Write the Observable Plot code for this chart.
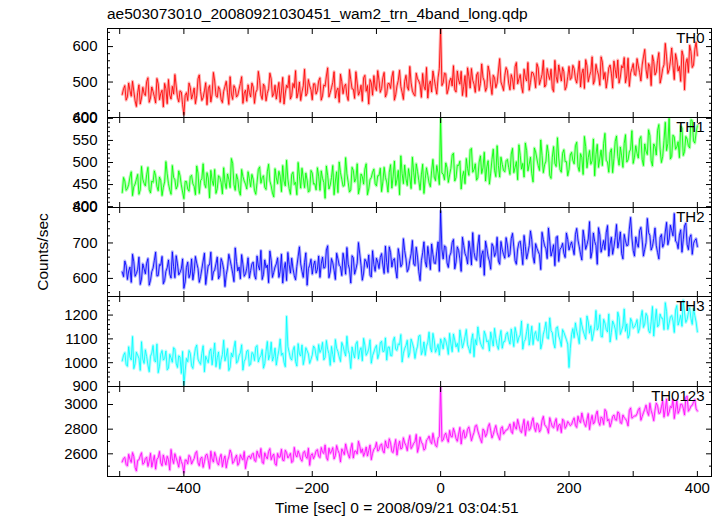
<!DOCTYPE html>
<html><head><meta charset="utf-8">
<script src="https://cdn.jsdelivr.net/npm/d3@7"></script>
<script src="https://cdn.jsdelivr.net/npm/@observablehq/plot@0.6"></script>
<style>
body{margin:0;background:#fff;}
#chart{position:relative;width:722px;height:516px;font-family:"Liberation Sans",Arial,Helvetica,sans-serif;color:#000;overflow:hidden;background:#fff}
.lbl{position:absolute;font-size:15.5px;line-height:1;white-space:nowrap}
#chart svg{position:absolute;left:0;overflow:visible}
</style></head><body>
<div id="chart"></div>
<script>
// ---- texts ----
const titleText = "ae503073010_20080921030451_wam2_trn_4band_long.qdp";
const xLabelText = "Time [sec] 0 = 2008/09/21 03:04:51";
const yLabelText = "Counts/sec";
const panelLabels = ["TH0", "TH1", "TH2", "TH3", "TH0123"];
const colors = ["#ff0000", "#00ff00", "#0000ff", "#00ffff", "#ff00ff"];

// ---- bin times: 2 s bins from -496 to 400 ----
const binStart = -496, binStep = 2, binCount = 449;
const binTimes = d3.range(binCount).map(k => binStart + k * binStep);

// ---- series values (counts/sec); "A" = even bins, "B" = odd bins ----
const th0A = [
465,490,458,476,502,447,470,438,485,462,512,455,473,441,495,468,430,481,507,452,466,489,444,472,408,
470,497,452,483,461,520,448,475,436,490,466,503,457,479,442,488,470,515,451,482,463,496,440,477,492,
458,486,471,530,463,494,447,481,509,466,452,499,475,438,491,518,462,484,455,500,472,536,468,489,450,
495,476,512,461,488,540,470,499,455,483,522,467,494,448,507,480,529,463,491,512,474,438,498,518,476,
505,482,527,468,496,514,449,489,533,471,502,486,544,475,461,509,492,524,478,455,503,531,487,512,655,
498,523,480,511,546,472,505,530,488,459,516,538,494,520,476,551,503,485,528,465,512,497,566,489,519,
532,478,508,543,495,521,470,513,555,499,526,484,540,507,561,492,519,536,473,515,548,503,529,487,544,
512,538,497,559,524,482,546,518,571,505,532,491,556,527,509,548,483,535,562,514,540,498,567,526,552,
519,545,503,571,536,552,490,558,528,583,514,549,571,535,596,507,562,544,588,478,566,604,541,592,575];
const th0B = [
481,449,497,460,474,431,492,455,468,501,443,486,459,510,450,477,496,439,463,488,521,457,475,436,462,
448,485,466,439,509,473,456,498,481,444,527,462,487,451,474,502,437,466,490,458,480,515,469,446,471,
497,440,478,505,451,487,468,525,459,491,477,443,513,469,484,452,496,532,470,448,489,461,507,478,495,
466,503,449,492,517,458,484,529,476,443,501,488,462,535,481,454,497,472,446,519,490,507,463,486,532,
471,512,458,496,482,530,464,505,487,451,519,477,498,466,525,503,457,488,541,494,472,509,466,538,490,
525,467,503,489,478,531,494,462,518,540,483,505,471,527,496,513,474,545,492,519,484,531,500,476,541,
497,521,480,555,509,488,536,503,477,528,514,552,493,521,486,538,507,482,561,499,526,541,478,515,507,
547,509,528,486,537,563,501,529,494,550,520,571,508,483,540,525,559,512,497,546,569,517,488,538,521,
566,527,548,592,511,543,575,520,561,497,538,609,524,559,546,580,531,502,573,553,527,586,548,612];

const th1A = [
432,458,441,467,425,451,473,438,462,447,489,431,455,470,436,459,444,502,452,428,466,440,481,449,418,
457,435,471,446,492,430,463,452,477,420,459,484,441,466,429,455,474,443,498,437,461,426,468,451,479,
445,462,428,484,453,470,439,496,447,422,465,480,434,458,505,441,473,450,427,469,487,443,460,436,476,
452,488,437,464,419,471,449,493,458,432,477,446,511,455,438,482,463,429,474,451,497,440,466,485,447,
470,434,489,456,478,442,503,461,427,475,494,448,467,512,452,480,438,496,463,471,445,507,459,476,600,
474,499,455,487,521,466,493,440,480,509,471,532,484,460,501,475,523,490,451,507,482,538,467,496,479,
507,473,532,489,461,516,498,544,481,512,456,524,493,551,477,503,520,464,536,491,510,478,529,502,484,
523,497,546,480,512,559,488,527,504,470,541,510,493,566,501,522,477,548,514,535,489,563,506,530,498,
538,510,559,493,526,574,504,542,517,586,500,550,527,600,514,558,535,511,578,525,553,533,595,544,583];
const th1B = [
466,437,450,479,445,462,428,491,453,472,439,458,481,446,467,425,456,474,438,493,461,447,470,433,457,
440,468,452,427,476,459,497,443,465,482,448,430,470,455,488,441,462,509,450,473,436,484,458,440,463,
473,437,455,490,466,444,479,458,431,486,452,469,493,447,462,428,478,455,500,442,465,476,433,482,451,
438,469,481,455,492,440,466,427,479,501,462,448,474,433,489,456,497,443,468,485,427,461,478,452,470,
487,456,466,433,495,469,448,482,515,452,463,486,441,478,497,459,472,430,488,454,481,467,493,450,476,
461,488,472,517,458,494,503,469,452,486,529,478,497,466,515,488,458,504,476,530,468,493,512,482,504,
489,519,477,502,540,485,467,527,496,475,533,508,482,516,495,539,471,512,498,556,484,521,502,470,517,
505,538,491,520,473,536,511,496,553,518,489,528,543,505,478,531,509,560,494,515,543,501,524,572,512,
521,553,507,542,518,561,492,536,573,529,514,591,543,508,562,530,547,583,516,559,538,597,549,567];

const th2A = [
618,649,597,632,668,606,625,583,641,613,656,595,629,674,608,637,585,620,652,601,633,664,610,627,572,
631,602,655,619,643,589,627,671,612,638,596,624,660,608,645,577,629,652,615,686,621,599,640,613,658,
622,646,598,635,679,611,630,588,651,617,641,603,668,626,594,639,657,608,634,689,620,645,581,637,612,
649,625,603,660,631,692,618,644,597,655,633,671,612,640,587,658,626,701,637,615,648,666,604,639,657,
628,670,614,645,689,632,656,601,663,640,678,619,651,707,636,660,594,672,647,690,625,668,642,703,790,
655,688,631,672,710,646,679,620,693,661,705,638,674,651,722,667,609,685,649,698,662,716,640,681,657,
694,668,727,650,683,705,639,690,672,734,661,698,676,625,709,684,742,663,695,716,648,687,671,728,680,
703,667,741,689,652,712,695,760,676,704,640,723,690,681,749,697,668,715,686,731,655,706,694,772,679,
717,688,744,663,701,729,680,712,692,655,724,698,758,711,735,783,702,722,674,748,696,715,668,707,690];
const th2B = [
605,636,621,589,647,614,660,598,627,643,581,619,651,607,639,662,594,630,612,675,602,641,617,655,590,
646,613,596,662,628,605,649,583,637,674,618,641,599,656,625,610,668,634,591,647,632,667,606,629,601,
641,609,663,624,597,652,638,677,603,632,658,620,587,645,673,615,627,596,661,641,603,672,628,654,637,
615,663,641,629,680,602,656,623,671,637,608,649,687,626,664,612,643,669,595,654,631,609,678,620,646,
659,638,691,617,673,652,624,684,633,712,655,627,669,641,688,619,650,703,632,661,697,643,675,620,682,
692,644,663,701,627,689,655,716,670,641,683,729,656,694,632,678,705,661,626,690,672,649,704,668,715,
661,712,689,640,701,676,721,655,693,709,643,685,667,730,692,656,705,677,636,719,683,699,659,710,693,
685,724,708,668,736,682,711,657,728,693,743,674,707,729,663,716,689,752,705,670,724,692,739,714,663,
698,735,709,682,769,721,690,742,673,716,688,731,695,750,720,705,684,737,709,756,681,723,699,712];

const th3A = [
1008,1042,985,1023,1110,996,1031,968,1015,1054,990,1027,1072,1003,958,1036,1011,1049,977,1020,1063,998,1029,955,905,
1018,1051,987,1026,1074,1002,1039,962,1013,1047,991,1082,1021,975,1034,1008,1059,981,1024,1090,1006,1041,969,1016,1052,
994,1038,1065,1003,1029,977,1047,1012,1086,1025,990,1053,1031,1002,1195,1044,1011,1068,986,1036,1074,1019,1050,997,1032,
1061,1010,1043,1085,1022,1056,989,1034,1097,1047,1005,1069,1028,1052,976,1040,1078,1016,1063,1102,1031,1057,998,1045,1073,
1037,1090,1048,1011,1066,1029,1107,1052,1075,1003,1060,1094,1041,1082,1018,1069,1115,1050,1031,1086,1062,1123,1044,1077,1100,
1058,1092,1035,1079,1120,1066,1047,1101,1083,1139,1059,1094,1025,1075,1110,1068,1132,1087,1049,1098,1144,1072,1106,1061,1089,
1127,1078,1103,1148,1085,1116,1057,1097,1162,1109,1076,1131,1092,1058,1120,1170,1101,1134,1083,1145,1112,1068,1127,1096,980,
1118,1105,1132,1080,1158,1117,1196,1124,1093,1150,1137,1201,1108,1166,1129,1087,1175,1141,1212,1119,1154,1132,1103,1186,1145,
1163,1126,1190,1148,1207,1135,1171,1112,1224,1158,1187,1139,1215,1166,1198,1127,1240,1176,1153,1209,1182,1231,1161,1198,1130];
const th3B = [
1031,993,1067,1012,975,1044,1019,1088,997,1026,962,1040,1009,1078,985,1051,1017,970,1035,1002,1056,980,1024,1047,966,
1004,1039,976,1060,1015,993,1071,1027,1000,1058,1035,983,1045,1012,1094,1028,967,1040,1063,998,1030,1075,1006,1049,988,
1043,1009,1072,1021,1055,996,1089,1034,1007,1061,1025,1099,1040,983,1068,1019,1052,1005,1080,1028,992,1063,1037,1014,1070,
1029,1076,1055,1012,1093,1038,1068,1003,1060,1024,1085,1047,1111,1035,1066,1020,1089,1051,1008,1074,1042,1096,1030,1062,1017,
1083,1047,1104,1065,1030,1091,1056,1079,1118,1040,1072,1023,1099,1061,1050,1112,1034,1087,1069,1128,1045,1093,1058,1032,1081,
1104,1070,1123,1046,1095,1081,1137,1062,1110,1075,1040,1121,1097,1150,1083,1059,1116,1093,1128,1070,1102,1056,1135,1088,1119,
1096,1141,1068,1122,1107,1175,1089,1130,1074,1153,1118,1099,1165,1081,1140,1104,1188,1126,1062,1151,1095,1139,1112,1078,1060,
1143,1167,1112,1186,1134,1099,1171,1155,1121,1219,1148,1110,1182,1139,1204,1127,1161,1098,1190,1136,1225,1163,1117,1172,1150,
1181,1144,1219,1162,1195,1125,1236,1173,1151,1204,1187,1252,1140,1192,1176,1221,1158,1199,1263,1169,1210,1185,1228,1171];

const th0123A = [
2535,2571,2502,2556,2610,2489,2547,2583,2515,2562,2498,2604,2541,2476,2568,2527,2590,2510,2553,2635,2521,2566,2492,2538,2445,
2549,2588,2517,2561,2620,2503,2574,2536,2597,2481,2558,2612,2529,2570,2495,2583,2544,2631,2522,2565,2507,2592,2551,2480,2576,
2560,2605,2538,2589,2643,2521,2577,2619,2552,2598,2506,2571,2637,2545,2610,2583,2529,2652,2574,2596,2540,2621,2563,2507,2601,
2587,2634,2569,2612,2671,2548,2603,2650,2585,2628,2534,2617,2680,2596,2641,2566,2624,2702,2609,2580,2655,2627,2552,2638,2693,
2633,2681,2607,2659,2722,2618,2667,2590,2703,2646,2688,2625,2748,2660,2697,2612,2735,2679,2641,2721,2700,2766,2668,2729,3160,
2712,2768,2695,2741,2807,2723,2759,2680,2792,2745,2818,2706,2773,2833,2751,2690,2786,2762,2845,2729,2797,2771,2714,2820,2778,
2796,2842,2765,2817,2879,2788,2831,2749,2863,2805,2892,2781,2838,2796,2904,2822,2767,2855,2811,2886,2834,2772,2869,2825,2847,
2838,2892,2814,2866,2931,2845,2879,2797,2912,2858,2947,2831,2888,2960,2866,2819,2903,2877,2940,2852,2915,2884,2826,2972,2897,
2906,2958,2872,2933,2995,2911,2950,2868,3012,2927,2981,2897,3045,2938,2974,2886,3030,2952,3002,2915,3068,2961,2993,3040,2948];
const th0123B = [
2562,2514,2596,2530,2578,2461,2551,2609,2525,2573,2540,2492,2587,2556,2619,2503,2545,2580,2468,2559,2601,2534,2577,2511,2550,
2518,2573,2542,2605,2527,2562,2490,2589,2547,2621,2533,2578,2509,2596,2552,2486,2574,2603,2538,2590,2526,2567,2618,2541,2583,
2594,2546,2622,2571,2530,2608,2559,2642,2583,2519,2603,2575,2548,2629,2566,2604,2540,2592,2624,2557,2611,2578,2645,2589,2560,
2625,2580,2651,2603,2571,2646,2619,2558,2667,2604,2640,2593,2631,2565,2685,2621,2598,2663,2640,2611,2582,2671,2604,2649,2622,
2668,2624,2705,2647,2689,2610,2716,2658,2639,2730,2667,2701,2642,2685,2757,2655,2694,2630,2711,2744,2682,2713,2657,2740,2702,
2751,2723,2790,2736,2771,2702,2814,2760,2727,2799,2768,2744,2826,2785,2718,2801,2739,2819,2787,2756,2830,2742,2806,2760,2793,
2815,2781,2856,2800,2834,2772,2879,2823,2791,2860,2814,2848,2777,2871,2836,2808,2893,2820,2857,2790,2840,2881,2806,2862,2829,
2869,2830,2905,2853,2882,2821,2926,2870,2842,2918,2861,2899,2838,2943,2880,2853,2915,2872,2930,2846,2893,2865,2951,2889,2908,
2925,2972,2903,2961,2939,3010,2917,2955,2990,2931,3028,2962,2909,2985,3041,2956,2928,3003,2970,3056,2945,2987,3019,2966];

const seriesA = [th0A, th1A, th2A, th3A, th0123A];
const seriesB = [th0B, th1B, th2B, th3B, th0123B];

// ---- tick values ----
const xMajorTicks = [-400, -200, 0, 200, 400];
const xMinorTicks = [-500, -300, -100, 100, 300];
const yMajorTicks = [
  [400, 500, 600],
  [400, 450, 500, 550, 600],
  [600, 700, 800],
  [900, 1000, 1100, 1200],
  [2600, 2800, 3000]];
const yMinorTicks = [
  [420, 440, 460, 480, 520, 540, 560, 580, 620, 640],
  [410, 420, 430, 440, 460, 470, 480, 490, 510, 520, 530, 540, 560, 570, 580, 590],
  [560, 580, 620, 640, 660, 680, 720, 740, 760, 780],
  [920, 940, 960, 980, 1020, 1040, 1060, 1080, 1120, 1140, 1160, 1180, 1220, 1240, 1260],
  [2500, 2700, 2900, 3100]];

// ---- scale / layout config ----
const xDomain = [-519, 422];
const yDomains = [[400, 651], [398, 602], [549, 800], [900, 1278], [2416, 3146]];
const panelTops = [28, 117, 207, 296, 386];
const panelBottom = 476;
const FONT = "'Liberation Sans', Arial, Helvetica, sans-serif";

const chart = document.getElementById("chart");
function addLabel(text, css) {
  const d = document.createElement("div");
  d.className = "lbl";
  d.textContent = text;
  Object.assign(d.style, css);
  chart.appendChild(d);
}
addLabel(titleText, {left: "107px", top: "6px"});
addLabel(xLabelText, {left: "275px", top: "500px"});
addLabel(yLabelText, {left: "43px", top: "252px", transform: "translate(-50%,-50%) rotate(-90deg)"});

const fmt = d3.format("d");
const blank = () => "";

seriesA.forEach((valsA, i) => {
  const valsB = seriesB[i];
  const data = [];
  valsA.forEach((v, k) => { if (2 * k < binCount) data.push({t: binTimes[2 * k], v}); });
  valsB.forEach((v, k) => { if (2 * k + 1 < binCount) data.push({t: binTimes[2 * k + 1], v}); });
  data.sort((a, b) => a.t - b.t);
  const top = panelTops[i];
  const h = (i < 4 ? panelTops[i + 1] : panelBottom) - top;
  const isLast = i === 4;
  const marks = [
    Plot.line(data, {x: "t", y: "v", stroke: colors[i], strokeWidth: 3, strokeOpacity: 0.3, clip: true}),
    Plot.line(data, {x: "t", y: "v", stroke: colors[i], strokeWidth: 0.85, clip: true}),
    Plot.frame({stroke: "black", strokeWidth: 1}),
    Plot.axisX({anchor: "bottom", ticks: xMajorTicks, tickSize: -5, tickFormat: blank, label: null}),
    Plot.axisX({anchor: "bottom", ticks: xMinorTicks, tickSize: -5, tickFormat: blank, label: null}),
    Plot.axisX({anchor: "top", ticks: xMajorTicks, tickSize: -5, tickFormat: blank, label: null}),
    Plot.axisX({anchor: "top", ticks: xMinorTicks, tickSize: -5, tickFormat: blank, label: null}),
    Plot.axisY({anchor: "left", ticks: yMajorTicks[i], tickSize: -6, tickFormat: blank, label: null}),
    Plot.axisY({anchor: "left", ticks: yMinorTicks[i], tickSize: -3, tickFormat: blank, label: null}),
    Plot.axisY({anchor: "right", ticks: yMajorTicks[i], tickSize: -6, tickFormat: blank, label: null}),
    Plot.axisY({anchor: "right", ticks: yMinorTicks[i], tickSize: -3, tickFormat: blank, label: null}),
    Plot.axisY({anchor: "left", ticks: yMajorTicks[i], tickSize: 0, tickPadding: 10, tickFormat: fmt, label: null}),
    Plot.text([panelLabels[i]], {frameAnchor: "top-right", text: d => d, textAnchor: "end", lineAnchor: "top", dx: -7, dy: 4, fill: "black"})
  ];
  if (isLast) {
    marks.push(Plot.axisX({anchor: "bottom", ticks: xMajorTicks, tickSize: 0, tickPadding: 6, tickFormat: fmt, label: null}));
  }
  const svg = Plot.plot({
    width: 722, height: h,
    marginLeft: 107, marginRight: 11, marginTop: 0, marginBottom: 0,
    x: {domain: xDomain, label: null},
    y: {domain: yDomains[i], label: null},
    style: {fontFamily: FONT, fontSize: "15px", color: "black", background: "transparent", overflow: "visible"},
    marks
  });
  svg.style.position = "absolute";
  svg.style.top = top + "px";
  svg.style.left = "0px";
  chart.appendChild(svg);
});
</script>
</body></html>
